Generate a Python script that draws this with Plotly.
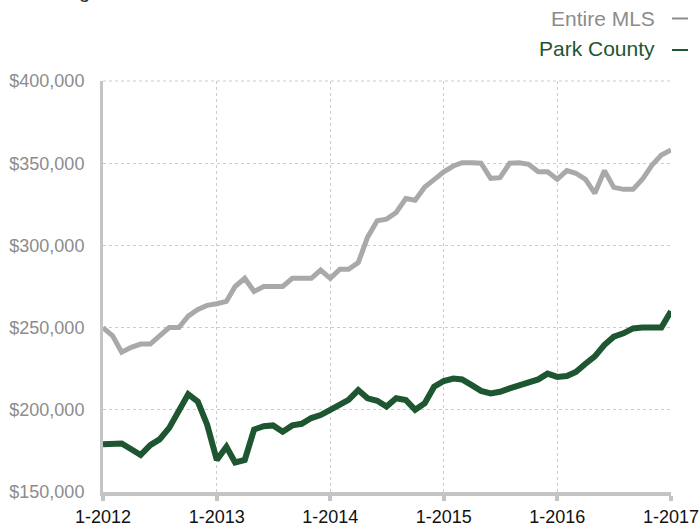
import plotly.graph_objects as go
import pandas as pd

months = pd.date_range("2012-01-01", "2017-01-01", freq="MS")

entire_mls = [
    250000, 245000, 235000, 238000, 240000, 240000, 245000, 250000, 250000, 257000,
    261000, 263500, 264500, 266000, 275000, 280000, 272000, 275000, 275000, 275000,
    280000, 280000, 280000, 285000, 280000, 285500, 285500, 289500, 305000, 315000,
    316000, 320000, 328500, 327500, 335500, 340000, 344800, 348300, 350300, 350300,
    350000, 340800, 341200, 350000, 350300, 349300, 344800, 344800, 340200, 345500,
    343900, 340200, 331700, 345500, 335300, 334100, 334100, 340200, 348900, 355000,
    358000,
]

park_county = [
    179000, 179000, 179500, 176000, 172500, 178500, 182000, 189000, 199000, 209500,
    205000, 191000, 169500, 177500, 168000, 169500, 188000, 190000, 190500, 186700,
    190500, 191500, 195000, 196800, 200000, 203500, 206000, 212000, 207000, 205500,
    202000, 207000, 206000, 200000, 204000, 214000, 217500, 219000, 218500, 215000,
    211500, 210000, 211000, 213000, 215000, 216000, 218500, 222000, 220000, 220500,
    223000, 228000, 232500, 239500, 244500, 246500, 249500, 250000, 250000, 250000,
    260000,
]

x_tick_vals = ["2012-01-01", "2013-01-01", "2014-01-01", "2015-01-01", "2016-01-01", "2017-01-01"]
x_tick_text = ["1-2012", "1-2013", "1-2014", "1-2015", "1-2016", "1-2017"]
y_tick_vals = [150000, 200000, 250000, 300000, 350000, 400000]
y_tick_text = ["$150,000", "$200,000", "$250,000", "$300,000", "$350,000", "$400,000"]

GRAY = "#a9a9a9"
LEGEND_GRAY = "#8c8c8c"
GREEN = "#1d5631"
FONT = "Liberation Sans, Arial, Helvetica, sans-serif"

fig = go.Figure()
fig.add_trace(go.Scatter(x=months, y=entire_mls, mode="lines", name="Entire MLS",
                         line=dict(color=GRAY, width=5), showlegend=False))
fig.add_trace(go.Scatter(x=months, y=park_county, mode="lines", name="Park County",
                         line=dict(color=GREEN, width=6), showlegend=False))

fig.update_layout(
    width=700, height=525,
    margin=dict(l=103, r=29, t=81, b=33, autoexpand=False),
    paper_bgcolor="white", plot_bgcolor="white",
    font=dict(family=FONT),
    showlegend=False,
)

fig.update_xaxes(
    range=["2012-01-01", "2017-01-01"],
    tickvals=x_tick_vals, ticktext=x_tick_text,
    tickfont=dict(size=18, color="#111111"),
    showgrid=True, gridcolor="#cccccc", griddash="dot", gridwidth=1,
    showline=True, linecolor="#c4c4c4", linewidth=4,
    ticks="outside", ticklen=5, tickwidth=4, tickcolor="#c4c4c4",
    zeroline=False, automargin=False,
)
fig.update_yaxes(
    range=[150000, 400000],
    tickvals=y_tick_vals, ticktext=y_tick_text,
    tickfont=dict(size=18, color="#8c8c8c"),
    showgrid=True, gridcolor="#cccccc", griddash="dot", gridwidth=1,
    showline=True, linecolor="#c4c4c4", linewidth=3,
    ticks="", ticklabelstandoff=12,
    zeroline=False, automargin=False,
)

# Top border (dotted)
fig.add_shape(type="line", xref="paper", yref="paper", x0=0, x1=1, y0=1, y1=1,
              line=dict(color="#cccccc", width=1, dash="dot"))

# Legend-like annotations at top right
fig.add_annotation(xref="paper", yref="paper", x=0.9754, y=1.1509,
                   xanchor="right", yanchor="middle", showarrow=False,
                   text="Entire MLS", font=dict(size=21, color=LEGEND_GRAY, family=FONT))
fig.add_shape(type="line", xref="paper", yref="paper", x0=1.0018, x1=1.0299, y0=1.1521, y1=1.1521,
              line=dict(color=LEGEND_GRAY, width=2))
fig.add_annotation(xref="paper", yref="paper", x=0.9754, y=1.0779,
                   xanchor="right", yanchor="middle", showarrow=False,
                   text="Park County", font=dict(size=21, color=GREEN, family=FONT))
fig.add_shape(type="line", xref="paper", yref="paper", x0=1.0018, x1=1.0299, y0=1.0754, y1=1.0754,
              line=dict(color=GREEN, width=2))

# Title mostly above the visible area (only its bottom edge shows)
fig.add_annotation(xref="paper", yref="paper", x=-0.134, y=1.218,
                   xanchor="left", yanchor="middle", showarrow=False,
                   text="Rolling 12-Month Calculation", font=dict(size=20, color="#333333", family=FONT))

# remove the default 8px page margin so the 700x525 figure fills the window
fig.write_html("out.html", config={"displayModeBar": False},
               post_script="document.body.style.margin='0px';")
